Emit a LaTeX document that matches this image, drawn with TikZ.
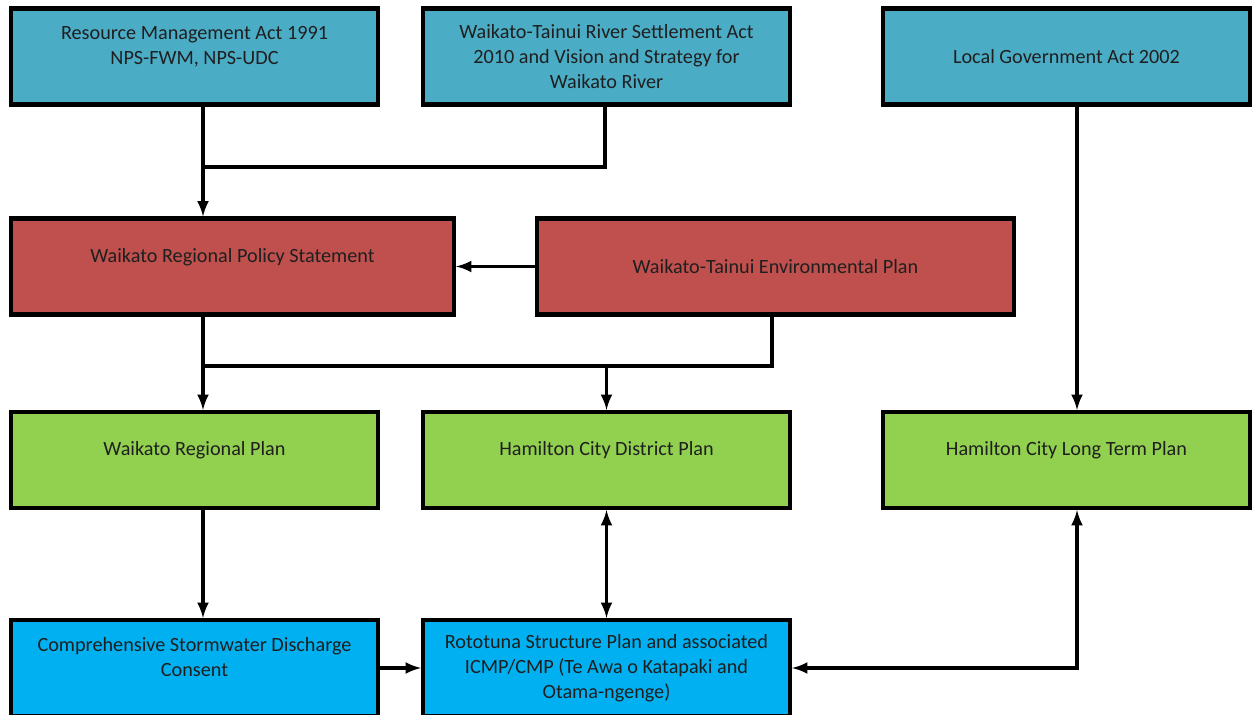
\documentclass[tikz,border=0pt]{standalone}
\usepackage{fontspec}
\setmainfont{Carlito}
\definecolor{actcol}{HTML}{4BACC6}
\definecolor{rpscol}{HTML}{C0504D}
\definecolor{plancol}{HTML}{92D050}
\definecolor{cmpcol}{HTML}{00B0F0}
\tikzset{
  box/.style={draw=black, line width=2.3pt, minimum height=1.92cm, align=center,
    inner sep=2pt, text=black!88, font=\fontsize{11.5}{14.2}\selectfont},
  actbox/.style={box, fill=actcol, minimum width=7.34cm},
  rpsbox/.style={box, fill=rpscol},
  planbox/.style={box, fill=plancol, minimum width=7.34cm},
  cmpbox/.style={box, fill=cmpcol, minimum width=7.34cm},
  link/.style={line width=2pt},
  arr/.style={link, -latex},
  twoway/.style={link, latex-latex}
}
\begin{document}
\begin{tikzpicture}
			%%%%% START %%%%%
			\useasboundingbox (0, 0) rectangle (25.08, -14.3);
			
			\node[actbox] (rma) at (3.89, -1.13) {Resource Management Act 1991\\NPS-FWM, NPS-UDC\\[-0.2cm]\strut};
			\node[actbox] (settle) at (12.13, -1.13) {Waikato-Tainui River Settlement Act\\2010 and Vision and Strategy for\\Waikato River};
			\node[actbox] (lga) at (21.33, -1.13) {Local Government Act 2002};
			
			\node[rpsbox, minimum width=8.86cm] (rps) at (4.65, -5.33) {Waikato Regional Policy Statement\\[-0.2cm]\strut};
			\node[rpsbox, minimum width=9.54cm] (envplan) at (15.51, -5.33) {Waikato-Tainui Environmental Plan};
			
			\node[planbox] (regplan) at (3.89, -9.2) {Waikato Regional Plan\\[-0.2cm]\strut};
			\node[planbox] (distplan) at (12.13, -9.2) {Hamilton City District Plan\\[-0.2cm]\strut};
			\node[planbox] (ltp) at (21.33, -9.2) {Hamilton City Long Term Plan\\[-0.2cm]\strut};
			
			\node[cmpbox] (consent) at (3.89, -13.36) {Comprehensive Stormwater Discharge\\Consent\\[-0.2cm]\strut};
			\node[cmpbox] (rototuna) at (12.13, -13.36) {Rototuna Structure Plan and associated\\ICMP/CMP (Te Awa o Katapaki and\\Otama-ngenge)};
			
			\coordinate (jact) at (4.06, -3.34);
			\coordinate (jrps) at (4.06, -7.32);
			
			\draw[arr] ([xshift=0.17cm]rma.south) -- ([xshift=0.17cm]rma.south |- rps.north);
			\draw[link] ([xshift=-0.03cm]settle.south) |- (jact);
			\draw[arr] (envplan.west) -- (envplan.west -| rps.east);
			
			\draw[arr] (rps.south -| jrps) -- (regplan.north -| jrps);
			\draw[link] ([xshift=-0.07cm]envplan.south) |- (jrps);
			\draw[arr] (distplan.north |- jrps) -- (distplan.north);
			
			\draw[arr] ([xshift=0.21cm]lga.south) -- ([xshift=0.21cm]ltp.north);
			
			\draw[arr] (regplan.south -| jrps) -- (consent.north -| jrps);
			\draw[twoway] (distplan.south) -- (rototuna.north);
			\draw[arr] (consent.east) -- (rototuna.west);
			\draw[twoway] (rototuna.east) -| ([xshift=0.21cm]ltp.south);
			
			%%%%% END %%%%%
\end{tikzpicture}
\end{document}
